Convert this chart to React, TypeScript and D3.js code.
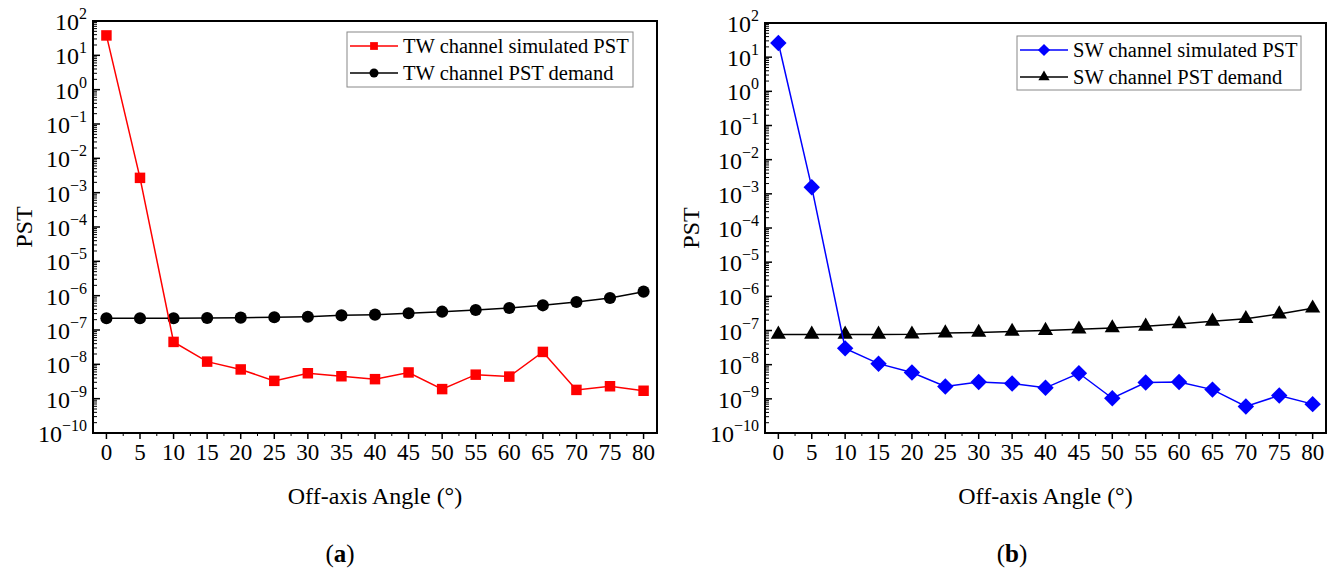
import React, { useEffect, useRef } from 'react'
import * as d3 from 'd3'

// off-axis angles (degrees)
const angles = [0, 5, 10, 15, 20, 25, 30, 35, 40, 45, 50, 55, 60, 65, 70, 75, 80]

// (a) TW channel
const twSimulated = [38, 2.7e-3, 4.5e-8, 1.2e-8, 7.1e-9, 3.3e-9, 5.5e-9, 4.5e-9, 3.7e-9, 5.8e-9, 1.9e-9, 5.0e-9, 4.4e-9, 2.3e-8, 1.8e-9, 2.3e-9, 1.7e-9]
const twDemand = [2.2e-7, 2.2e-7, 2.2e-7, 2.24e-7, 2.29e-7, 2.34e-7, 2.44e-7, 2.67e-7, 2.8e-7, 3.06e-7, 3.42e-7, 3.83e-7, 4.37e-7, 5.23e-7, 6.54e-7, 8.55e-7, 1.31e-6]

// (b) SW channel
const swSimulated = [26, 1.55e-3, 3.0e-8, 1.07e-8, 5.9e-9, 2.3e-9, 3.1e-9, 2.8e-9, 2.1e-9, 5.6e-9, 1.04e-9, 3.0e-9, 3.1e-9, 1.86e-9, 6.0e-10, 1.25e-9, 7.0e-10]
const swDemand = [7.7e-8, 7.7e-8, 7.7e-8, 7.7e-8, 7.8e-8, 8.4e-8, 8.75e-8, 9.4e-8, 1.0e-7, 1.09e-7, 1.19e-7, 1.33e-7, 1.56e-7, 1.86e-7, 2.22e-7, 3.03e-7, 4.5e-7]

// y axis decades (exponents)
const yExponents = [2, 1, 0, -1, -2, -3, -4, -5, -6, -7, -8, -9, -10]
const xTickValues = [0, 5, 10, 15, 20, 25, 30, 35, 40, 45, 50, 55, 60, 65, 70, 75, 80]

const FONT = 'Liberation Serif'

// square turned 45 degrees, same width and height
const symbolRhomb = {
    draw(ctx, size) {
        const r = Math.sqrt(size / 2)
        ctx.moveTo(0, -r)
        ctx.lineTo(r, 0)
        ctx.lineTo(0, r)
        ctx.lineTo(-r, 0)
        ctx.closePath()
    }
}

const panels = [
    {
        left: 93, right: 657, top: 21, bottom: 433,
        sim: twSimulated, dem: twDemand,
        simColor: '#ff0000', simSymbol: d3.symbolSquare, simSize: 110,
        demSymbol: d3.symbolCircle, demSize: 115,
        simLabel: 'TW channel simulated PST', demLabel: 'TW channel PST demand',
        legend: { x: 347, y: 32, w: 286, h: 55 },
        letter: 'a', letterX: 340, pstX: 32
    },
    {
        left: 765, right: 1326, top: 23, bottom: 433,
        sim: swSimulated, dem: swDemand,
        simColor: '#0000ff', simSymbol: symbolRhomb, simSize: 135,
        demSymbol: d3.symbolTriangle, demSize: 100,
        simLabel: 'SW channel simulated PST', demLabel: 'SW channel PST demand',
        legend: { x: 1017, y: 36, w: 284, h: 54 },
        letter: 'b', letterX: 1012, pstX: 699
    }
]

function drawPanel(svg, p) {
    const x = d3.scaleLinear().domain([-2, 82]).range([p.left, p.right])
    const y = d3.scaleLog().domain([1e-10, 1e2]).range([p.bottom, p.top])

    const g = svg.append('g')

    // frame
    g.append('rect')
        .attr('x', p.left).attr('y', p.top)
        .attr('width', p.right - p.left).attr('height', p.bottom - p.top)
        .attr('fill', 'none').attr('stroke', '#000').attr('stroke-width', 2)

    // y ticks (inside), major + minor
    const minor = []
    yExponents.forEach(e => {
        if (e < 2) d3.range(2, 10).forEach(m => minor.push(m * Math.pow(10, e)))
    })
    g.selectAll('.ymin').data(minor).join('line')
        .attr('x1', p.left).attr('x2', p.left + 4)
        .attr('y1', d => y(d)).attr('y2', d => y(d))
        .attr('stroke', '#000').attr('stroke-width', 1)
    g.selectAll('.ymaj').data(yExponents).join('line')
        .attr('x1', p.left).attr('x2', p.left + 7)
        .attr('y1', d => y(Math.pow(10, d))).attr('y2', d => y(Math.pow(10, d)))
        .attr('stroke', '#000').attr('stroke-width', 1.5)

    const yl = g.selectAll('.ylab').data(yExponents).join('text')
        .attr('x', p.left - 6)
        .attr('y', d => y(Math.pow(10, d)) + 9)
        .attr('text-anchor', 'end')
        .attr('font-family', FONT).attr('font-size', 24)
    yl.append('tspan').text('10')
    yl.append('tspan').attr('dy', -11).attr('font-size', 16)
        .text(d => String(d).replace('-', '\u2212'))

    // x ticks (outside)
    g.selectAll('.xmaj').data(xTickValues).join('line')
        .attr('x1', d => x(d)).attr('x2', d => x(d))
        .attr('y1', p.bottom).attr('y2', p.bottom + 6)
        .attr('stroke', '#000').attr('stroke-width', 1.5)
    g.selectAll('.xmin').data(xTickValues.slice(0, -1).map(d => d + 2.5)).join('line')
        .attr('x1', d => x(d)).attr('x2', d => x(d))
        .attr('y1', p.bottom).attr('y2', p.bottom + 3)
        .attr('stroke', '#000').attr('stroke-width', 1)
    g.selectAll('.xlab').data(xTickValues).join('text')
        .attr('x', d => x(d)).attr('y', p.bottom + 27)
        .attr('text-anchor', 'middle')
        .attr('font-family', FONT).attr('font-size', 23)
        .text(d => d)

    // axis titles
    g.append('text')
        .attr('x', (p.left + p.right) / 2).attr('y', p.bottom + 71)
        .attr('text-anchor', 'middle')
        .attr('font-family', FONT).attr('font-size', 24)
        .text('Off-axis Angle (°)')
    g.append('text')
        .attr('transform', `translate(${p.pstX},${(p.top + p.bottom) / 2}) rotate(-90)`)
        .attr('text-anchor', 'middle')
        .attr('font-family', FONT).attr('font-size', 24)
        .text('PST')

    const line = d3.line().x((d, i) => x(angles[i])).y(d => y(d))

    // demand series (black)
    g.append('path').datum(p.dem).attr('d', line)
        .attr('fill', 'none').attr('stroke', '#000').attr('stroke-width', 1.5)
    g.selectAll('.dem').data(p.dem).join('path')
        .attr('transform', (d, i) => `translate(${x(angles[i])},${y(d)})`)
        .attr('d', d3.symbol().type(p.demSymbol).size(p.demSize))
        .attr('fill', '#000')

    // simulated series
    g.append('path').datum(p.sim).attr('d', line)
        .attr('fill', 'none').attr('stroke', p.simColor).attr('stroke-width', 1.5)
    g.selectAll('.sim').data(p.sim).join('path')
        .attr('transform', (d, i) => `translate(${x(angles[i])},${y(d)})`)
        .attr('d', d3.symbol().type(p.simSymbol).size(p.simSize))
        .attr('fill', p.simColor)

    // legend
    const L = p.legend
    const lg = g.append('g')
    lg.append('rect')
        .attr('x', L.x).attr('y', L.y).attr('width', L.w).attr('height', L.h)
        .attr('fill', '#fff').attr('stroke', '#888').attr('stroke-width', 1)
    const rows = [
        { label: p.simLabel, color: p.simColor, sym: p.simSymbol, size: p.simSize * 0.55 },
        { label: p.demLabel, color: '#000', sym: p.demSymbol, size: p.demSize * 0.55 }
    ]
    rows.forEach((r, i) => {
        const cy = L.y + 14 + i * 27
        lg.append('line')
            .attr('x1', L.x + 3).attr('x2', L.x + 51)
            .attr('y1', cy).attr('y2', cy)
            .attr('stroke', r.color).attr('stroke-width', 1.5)
        lg.append('path')
            .attr('transform', `translate(${L.x + 27},${cy})`)
            .attr('d', d3.symbol().type(r.sym).size(r.size))
            .attr('fill', r.color)
        lg.append('text')
            .attr('x', L.x + 56).attr('y', cy + 7)
            .attr('font-family', FONT).attr('font-size', 20.5)
            .text(r.label)
    })

    // panel caption
    const cap = g.append('text')
        .attr('x', p.letterX).attr('y', 562)
        .attr('text-anchor', 'middle')
        .attr('font-family', FONT).attr('font-size', 25)
    cap.append('tspan').text('(')
    cap.append('tspan').attr('font-weight', 'bold').text(p.letter)
    cap.append('tspan').text(')')
}

export default function App() {
    const ref = useRef(null)

    useEffect(() => {
        const svg = d3.select(ref.current)
        svg.selectAll('*').remove()
        panels.forEach(p => drawPanel(svg, p))
    }, [])

    return (
        <svg ref={ref} width={1334} height={572}
            style={{ position: 'absolute', left: 0, top: 0, background: '#fff' }} />
    )
}
